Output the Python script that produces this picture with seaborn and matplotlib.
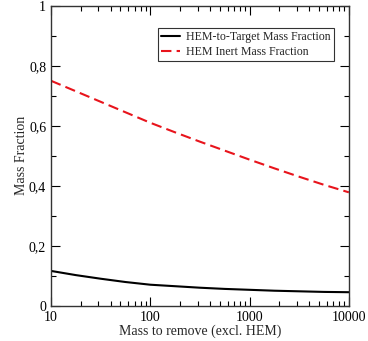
import numpy as np
import pandas as pd
import matplotlib
matplotlib.use("Agg")
import matplotlib.pyplot as plt
import seaborn as sns
from matplotlib.ticker import FuncFormatter, MultipleLocator, LogLocator, NullFormatter

# values
mass = [10, 17.8, 31.6, 56.2, 100, 178, 316, 562, 1000, 1778, 3162, 5623, 10000]
target_frac = [0.116, 0.102, 0.090, 0.079, 0.070, 0.065, 0.060, 0.056, 0.053, 0.050, 0.048, 0.046, 0.045]
inert_frac = [0.750, 0.715, 0.680, 0.645, 0.610, 0.578, 0.547, 0.517, 0.487, 0.458, 0.430, 0.403, 0.378]

df = pd.DataFrame({"mass": mass, "target": target_frac, "inert": inert_frac})

sns.set_style("ticks")
plt.rcParams['font.family'] = ['Liberation Serif', 'DejaVu Serif']

fig = plt.figure(figsize=(3.68, 3.41), dpi=100)
ax = fig.add_axes([0.1386, 0.1035, 0.8094, 0.8795])

sns.lineplot(data=df, x="mass", y="target", ax=ax, color="black", lw=1.5,
             label="HEM-to-Target Mass Fraction")
sns.lineplot(data=df, x="mass", y="inert", ax=ax, color="#e8141c", lw=1.5,
             label="HEM Inert Mass Fraction")
ax.lines[1].set_dashes((5, 2.5))

ax.set_xscale("log")
ax.set_xlim(10, 10000)
ax.set_ylim(0, 1)
ax.yaxis.set_major_locator(MultipleLocator(0.2))
ax.yaxis.set_minor_locator(MultipleLocator(0.1))
ax.xaxis.set_major_locator(LogLocator(base=10))
ax.xaxis.set_minor_locator(LogLocator(base=10, subs=np.arange(2, 10)))
ax.xaxis.set_minor_formatter(NullFormatter())
ax.xaxis.set_major_formatter(FuncFormatter(lambda v, p: f"{v:.0f}"))
ax.yaxis.set_major_formatter(FuncFormatter(
    lambda v, p: "0" if abs(v) < 1e-9 else ("1" if abs(v - 1) < 1e-9 else f"{v:.1f}".replace(".", ","))))

ax.tick_params(which="both", direction="in", top=True, right=True, labelsize=10, colors="black")
ax.tick_params(which="major", length=6.5, width=0.8)
ax.tick_params(which="minor", length=3.5, width=0.8)
for s in ax.spines.values():
    s.set_color("#333333")
    s.set_linewidth(1.0)

ax.set_xlabel("Mass to remove (excl. HEM)", fontsize=10, labelpad=1)
ax.set_ylabel("Mass Fraction", fontsize=10)
ax.yaxis.set_label_coords(-0.077, 0.5)

leg = ax.legend(loc="upper right", bbox_to_anchor=(0.95, 0.926), borderaxespad=0,
                fontsize=8.6, frameon=True, fancybox=False, handlelength=1.6,
                borderpad=0.25, labelspacing=0.25, handletextpad=0.5)
leg.get_frame().set_edgecolor("black")
leg.get_frame().set_linewidth(0.8)

fig.savefig("out.png", dpi=100)
